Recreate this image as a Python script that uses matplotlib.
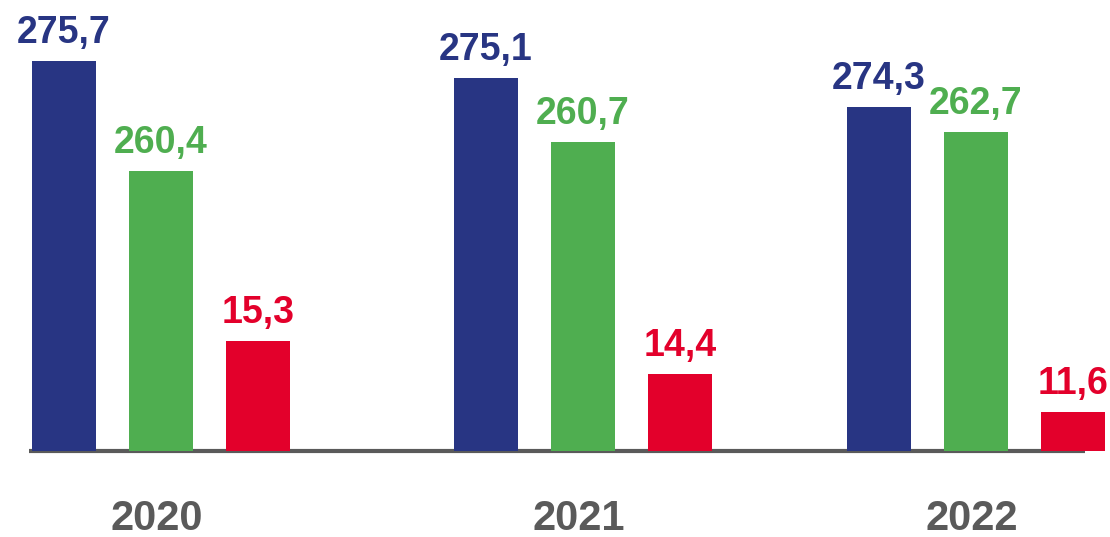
import numpy as np
import matplotlib
matplotlib.use('Agg')
import matplotlib.pyplot as plt

plt.rcParams['font.family'] = ['Liberation Sans', 'DejaVu Sans']

# Data (bars are drawn not to scale in the original,
# so the displayed heights are kept separately from the printed values)
years = ['2020', '2021', '2022']
series_names = ['blue', 'green', 'red']
values = [
    [275.7, 275.1, 274.3],
    [260.4, 260.7, 262.7],
    [15.3, 14.4, 11.6],
]
bar_heights = [
    [390, 373, 344],
    [280, 309, 319],
    [110, 77, 39],
]
colors = ['#283583', '#4FAE50', '#E3002B']
grey = '#5A5A5A'

fig = plt.figure(figsize=(11.10, 5.37), dpi=100)
ax = fig.add_axes([0, 0, 1, 1])

group_px = 407.5  # pixels per group step
width = 64 / group_px
offset = 97 / group_px
x = np.array([0, 1.035, 2])  # group centres (slightly uneven in the original)

for i, (vals, hts, col) in enumerate(zip(values, bar_heights, colors)):
    xs = x + (i - 1) * offset
    ax.bar(xs, hts, width=width, color=col, zorder=3)
    for xi, h, v in zip(xs, hts, vals):
        ax.annotate(f'{v:.1f}'.replace('.', ','), (xi, h), xytext=(0, 7),
                    textcoords='offset points', ha='center', va='bottom',
                    fontsize=27, fontweight='bold', color=col)

# baseline
ax.hlines(0, -132 / group_px, 924 / group_px, color=grey, linewidth=3, zorder=2)

for xi, yr in zip(x, years):
    ax.text(xi - 0.01, -68, yr, ha='center', va='center', fontsize=30,
            fontweight='bold', color=grey)

ax.set_xlim(-161 / group_px, (1110 - 161) / group_px)
ax.set_ylim(-86, 451)
ax.axis('off')

fig.savefig('out.png', dpi=100)
